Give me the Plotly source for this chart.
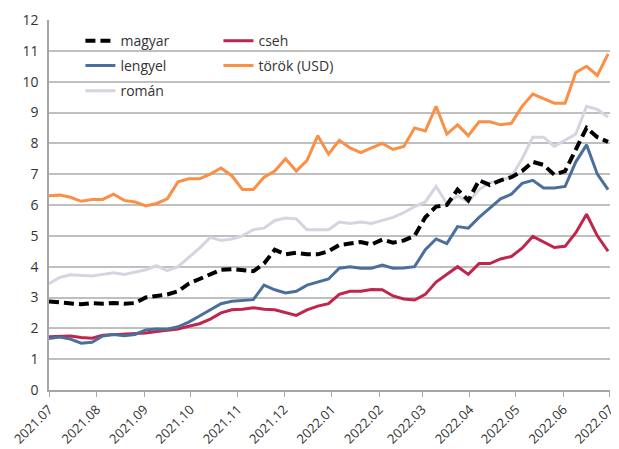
import pandas as pd
import plotly.graph_objects as go

# heti adatok 2021.07.01-tol 2022.06.30-ig
datumok = pd.date_range('2021-07-01', periods=53, freq='7D')

magyar = [2.87, 2.85, 2.80, 2.78, 2.82, 2.80, 2.82, 2.80, 2.82, 3.00,
          3.05, 3.10, 3.20, 3.45, 3.60, 3.75, 3.90, 3.92, 3.90, 3.85,
          4.10, 4.55, 4.40, 4.45, 4.40, 4.40, 4.50, 4.70, 4.75, 4.80,
          4.72, 4.88, 4.78, 4.85, 5.00, 5.60, 5.95, 6.00, 6.50, 6.15,
          6.80, 6.65, 6.80, 6.90, 7.10, 7.40, 7.30, 6.98, 7.10, 7.80,
          8.50, 8.20, 8.05]

cseh = [1.73, 1.73, 1.75, 1.70, 1.68, 1.78, 1.80, 1.80, 1.82, 1.85,
        1.90, 1.93, 1.98, 2.07, 2.15, 2.30, 2.50, 2.60, 2.62, 2.67,
        2.62, 2.60, 2.50, 2.42, 2.60, 2.72, 2.80, 3.10, 3.20, 3.20,
        3.26, 3.25, 3.05, 2.95, 2.92, 3.10, 3.50, 3.75, 4.00, 3.75,
        4.10, 4.10, 4.25, 4.33, 4.60, 4.98, 4.80, 4.62, 4.66, 5.10,
        5.70, 5.00, 4.50]

lengyel = [1.67, 1.72, 1.65, 1.52, 1.55, 1.75, 1.80, 1.76, 1.80, 1.95,
           1.98, 1.97, 2.05, 2.20, 2.40, 2.60, 2.80, 2.88, 2.90, 2.93,
           3.40, 3.25, 3.15, 3.20, 3.40, 3.50, 3.60, 3.95, 4.00, 3.95,
           3.95, 4.05, 3.95, 3.96, 4.00, 4.55, 4.90, 4.75, 5.30, 5.25,
           5.60, 5.90, 6.20, 6.35, 6.70, 6.80, 6.55, 6.55, 6.60, 7.40,
           7.95, 7.00, 6.50]

torok = [6.30, 6.32, 6.25, 6.12, 6.18, 6.18, 6.35, 6.15, 6.10, 5.97,
         6.05, 6.20, 6.75, 6.85, 6.85, 7.00, 7.20, 6.95, 6.50, 6.50,
         6.90, 7.10, 7.50, 7.10, 7.45, 8.25, 7.65, 8.10, 7.85, 7.70,
         7.85, 8.00, 7.80, 7.90, 8.50, 8.40, 9.20, 8.30, 8.60, 8.25,
         8.70, 8.70, 8.60, 8.65, 9.20, 9.60, 9.45, 9.30, 9.30, 10.30,
         10.50, 10.20, 10.90]

roman = [3.45, 3.65, 3.74, 3.72, 3.70, 3.75, 3.80, 3.75, 3.82, 3.90,
         4.03, 3.87, 4.00, 4.30, 4.60, 4.95, 4.85, 4.90, 5.00, 5.20,
         5.25, 5.50, 5.58, 5.55, 5.20, 5.20, 5.20, 5.45, 5.40, 5.45,
         5.40, 5.50, 5.60, 5.75, 5.95, 6.10, 6.60, 6.05, 6.30, 6.10,
         6.50, 6.72, 6.80, 6.90, 7.50, 8.20, 8.20, 7.90, 8.10, 8.30,
         9.20, 9.10, 8.85]

fig = go.Figure()

# rajzolasi sorrend: a roman alul, a magyar legfelul
# minden sor kulon legendat kap, hogy a jelmagyarazat ket oszlopban alljon
fig.add_trace(go.Scatter(x=datumok, y=roman, mode='lines', name='román',
                         line=dict(color='#d9d2e1', width=3), legend='legend5'))
fig.add_trace(go.Scatter(x=datumok, y=cseh, mode='lines', name='cseh',
                         line=dict(color='#c0254c', width=3), legend='legend2'))
fig.add_trace(go.Scatter(x=datumok, y=lengyel, mode='lines', name='lengyel',
                         line=dict(color='#4b6f9c', width=3), legend='legend3'))
fig.add_trace(go.Scatter(x=datumok, y=torok, mode='lines', name='török (USD)',
                         line=dict(color='#fb8f45', width=3), legend='legend4'))
fig.add_trace(go.Scatter(x=datumok, y=magyar, mode='lines', name='magyar',
                         line=dict(color='black', width=4, dash='10px,5px'),
                         legend='legend'))

legenda = dict(font=dict(family='Open Sans', size=14, color='#333333'),
               bgcolor='rgba(0,0,0,0)', yanchor='top', xanchor='left',
               itemwidth=30)

bal, jobb = 0.056, 0.302
sor1, sor2, sor3 = 0.986, 0.919, 0.851

fig.update_layout(
    width=611, height=441,
    margin=dict(l=40, r=2, t=11, b=58),
    paper_bgcolor='white', plot_bgcolor='white',
    font=dict(family='Open Sans', size=14, color='#333333'),
    legend=dict(legenda, x=bal, y=sor1),
    legend2=dict(legenda, x=jobb, y=sor1),
    legend3=dict(legenda, x=bal, y=sor2),
    legend4=dict(legenda, x=jobb, y=sor2),
    legend5=dict(legenda, x=bal, y=sor3),
    xaxis=dict(type='date', range=['2021-07-01', '2022-07-01 06:00'],
               dtick='M1', tick0='2021-07-01', tickformat='%Y.%m',
               tickangle=-45, ticks='outside', ticklen=5, tickcolor='#a6a6a6',
               showgrid=False, showline=True, linecolor='#a6a6a6', linewidth=1.5,
               ticklabeloverflow='allow', tickfont=dict(size=13)),
    yaxis=dict(range=[0, 12], dtick=1, showgrid=True, gridcolor='#bfbfbf',
               gridwidth=1.5, showline=True, linecolor='#a6a6a6', linewidth=1.5,
               zeroline=False, ticks='', ticklabelstandoff=6,
               tickfont=dict(size=14)),
    showlegend=True,
)

fig.write_html('out.html')
